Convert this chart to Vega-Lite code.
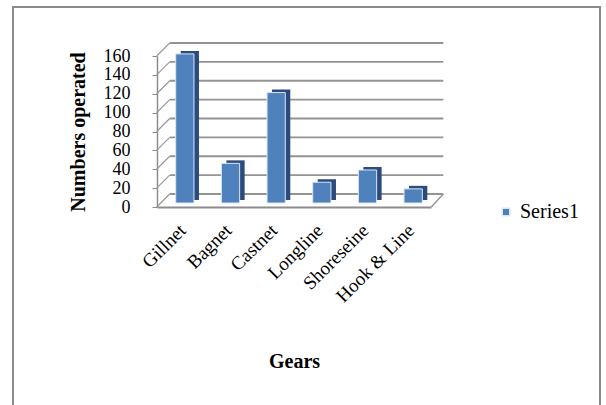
{
  "$schema": "https://vega.github.io/schema/vega-lite/v6.json",
  "width": 587,
  "height": 400,
  "autosize": {"type": "none"},
  "padding": {"left": 13, "top": 7, "right": 6, "bottom": 0},
  "config": {
    "view": {"stroke": "#8a8a8a", "strokeWidth": 2},
    "font": "Liberation Serif",
    "axis": {"labelFont": "Liberation Serif", "titleFont": "Liberation Serif", "labelColor": "#000000", "titleColor": "#000000", "grid": false},
    "legend": {"labelFont": "Liberation Serif", "padding": 0}
  },
  "datasets": {
    "gears": [
      {"gear": "Gillnet", "count": 158, "series": "Series1"},
      {"gear": "Bagnet", "count": 42, "series": "Series1"},
      {"gear": "Castnet", "count": 117, "series": "Series1"},
      {"gear": "Longline", "count": 22, "series": "Series1"},
      {"gear": "Shoreseine", "count": 35, "series": "Series1"},
      {"gear": "Hook & Line", "count": 15, "series": "Series1"}
    ],
    "grid": [
      {"v": 0}, {"v": 20}, {"v": 40}, {"v": 60}, {"v": 80},
      {"v": 100}, {"v": 120}, {"v": 140}, {"v": 160}
    ]
  },
  "layer": [
    {
      "data": {"name": "gears"},
      "mark": {"type": "bar", "opacity": 0},
      "encoding": {
        "x": {
          "field": "gear",
          "type": "nominal",
          "title": "Gears",
          "scale": {
            "domain": ["Gillnet", "Bagnet", "Castnet", "Longline", "Shoreseine", "Hook & Line"],
            "range": [144, 418],
            "paddingInner": 0.6,
            "paddingOuter": 0.3
          },
          "axis": {
            "titleFontSize": 20,
            "titleFontWeight": "bold",
            "titlePadding": 46,
            "offset": -200,
            "labelAngle": -45,
            "labelAlign": "right",
            "labelBaseline": "middle",
            "labelFontSize": 19,
            "labelPadding": 20,
            "labelOffset": 3,
            "labelOverlap": false,
            "ticks": false,
            "domainColor": "#8c8c8c",
            "domainWidth": 2
          }
        },
        "y": {
          "field": "count",
          "type": "quantitative",
          "title": "Numbers operated",
          "scale": {"domain": [0, 160], "range": [200, 49], "nice": false},
          "axis": {
            "titleFontSize": 20,
            "titleFontWeight": "bold",
            "titlePadding": 15,
            "offset": -144,
            "values": [0, 20, 40, 60, 80, 100, 120, 140, 160],
            "labelOverlap": false,
            "labelFontSize": 18,
            "labelPadding": 22,
            "tickSize": 5,
            "tickColor": "#8c8c8c",
            "domainColor": "#8c8c8c",
            "domainWidth": 1.5
          }
        }
      }
    },
    {
      "data": {"name": "grid"},
      "mark": {"type": "rule", "color": "#939393", "strokeWidth": 1.8, "xOffset": -1, "x2Offset": 26, "yOffset": -13},
      "encoding": {
        "x": {"datum": "Gillnet", "bandPosition": 0, "title": "Gears"},
        "x2": {"datum": "Hook & Line", "bandPosition": 1},
        "y": {"field": "v", "type": "quantitative", "title": "Numbers operated"}
      }
    },
    {
      "data": {"name": "grid"},
      "mark": {"type": "rule", "color": "#9a9a9a", "strokeWidth": 1.2, "xOffset": -14, "x2Offset": -1, "y2Offset": -13},
      "encoding": {
        "x": {"datum": "Gillnet", "bandPosition": 0, "title": "Gears"},
        "x2": {"datum": "Gillnet", "bandPosition": 0},
        "y": {"field": "v", "type": "quantitative", "title": "Numbers operated"},
        "y2": {"field": "v"}
      }
    },
    {
      "data": {"name": "grid"},
      "transform": [{"filter": "datum.v == 0"}],
      "mark": {"type": "rule", "color": "#9a9a9a", "strokeWidth": 1.5, "xOffset": 14, "x2Offset": 26, "y2Offset": -13},
      "encoding": {
        "x": {"datum": "Hook & Line", "bandPosition": 1, "title": "Gears"},
        "x2": {"datum": "Hook & Line", "bandPosition": 1},
        "y": {"field": "v", "type": "quantitative", "title": "Numbers operated"},
        "y2": {"field": "v"}
      }
    },
    {
      "data": {"name": "gears"},
      "mark": {"type": "bar", "color": "#2b4b7e", "xOffset": 10, "yOffset": -7, "y2Offset": -7},
      "encoding": {
        "x": {"field": "gear", "type": "nominal", "title": "Gears"},
        "y": {"field": "count", "type": "quantitative", "title": "Numbers operated"}
      }
    },
    {
      "data": {"name": "gears"},
      "mark": {"type": "bar", "xOffset": 5, "yOffset": -4, "y2Offset": -4, "stroke": "#dce6f2", "strokeWidth": 1},
      "encoding": {
        "x": {"field": "gear", "type": "nominal", "title": "Gears"},
        "y": {"field": "count", "type": "quantitative", "title": "Numbers operated"},
        "color": {
          "field": "series",
          "type": "nominal",
          "scale": {"range": ["#4f81bd"]},
          "legend": {
            "title": null,
            "orient": "none",
            "legendX": 483,
            "legendY": 195,
            "symbolType": "square",
            "symbolSize": 56,
            "labelFontSize": 20,
            "labelOffset": 4
          }
        }
      }
    }
  ]
}
